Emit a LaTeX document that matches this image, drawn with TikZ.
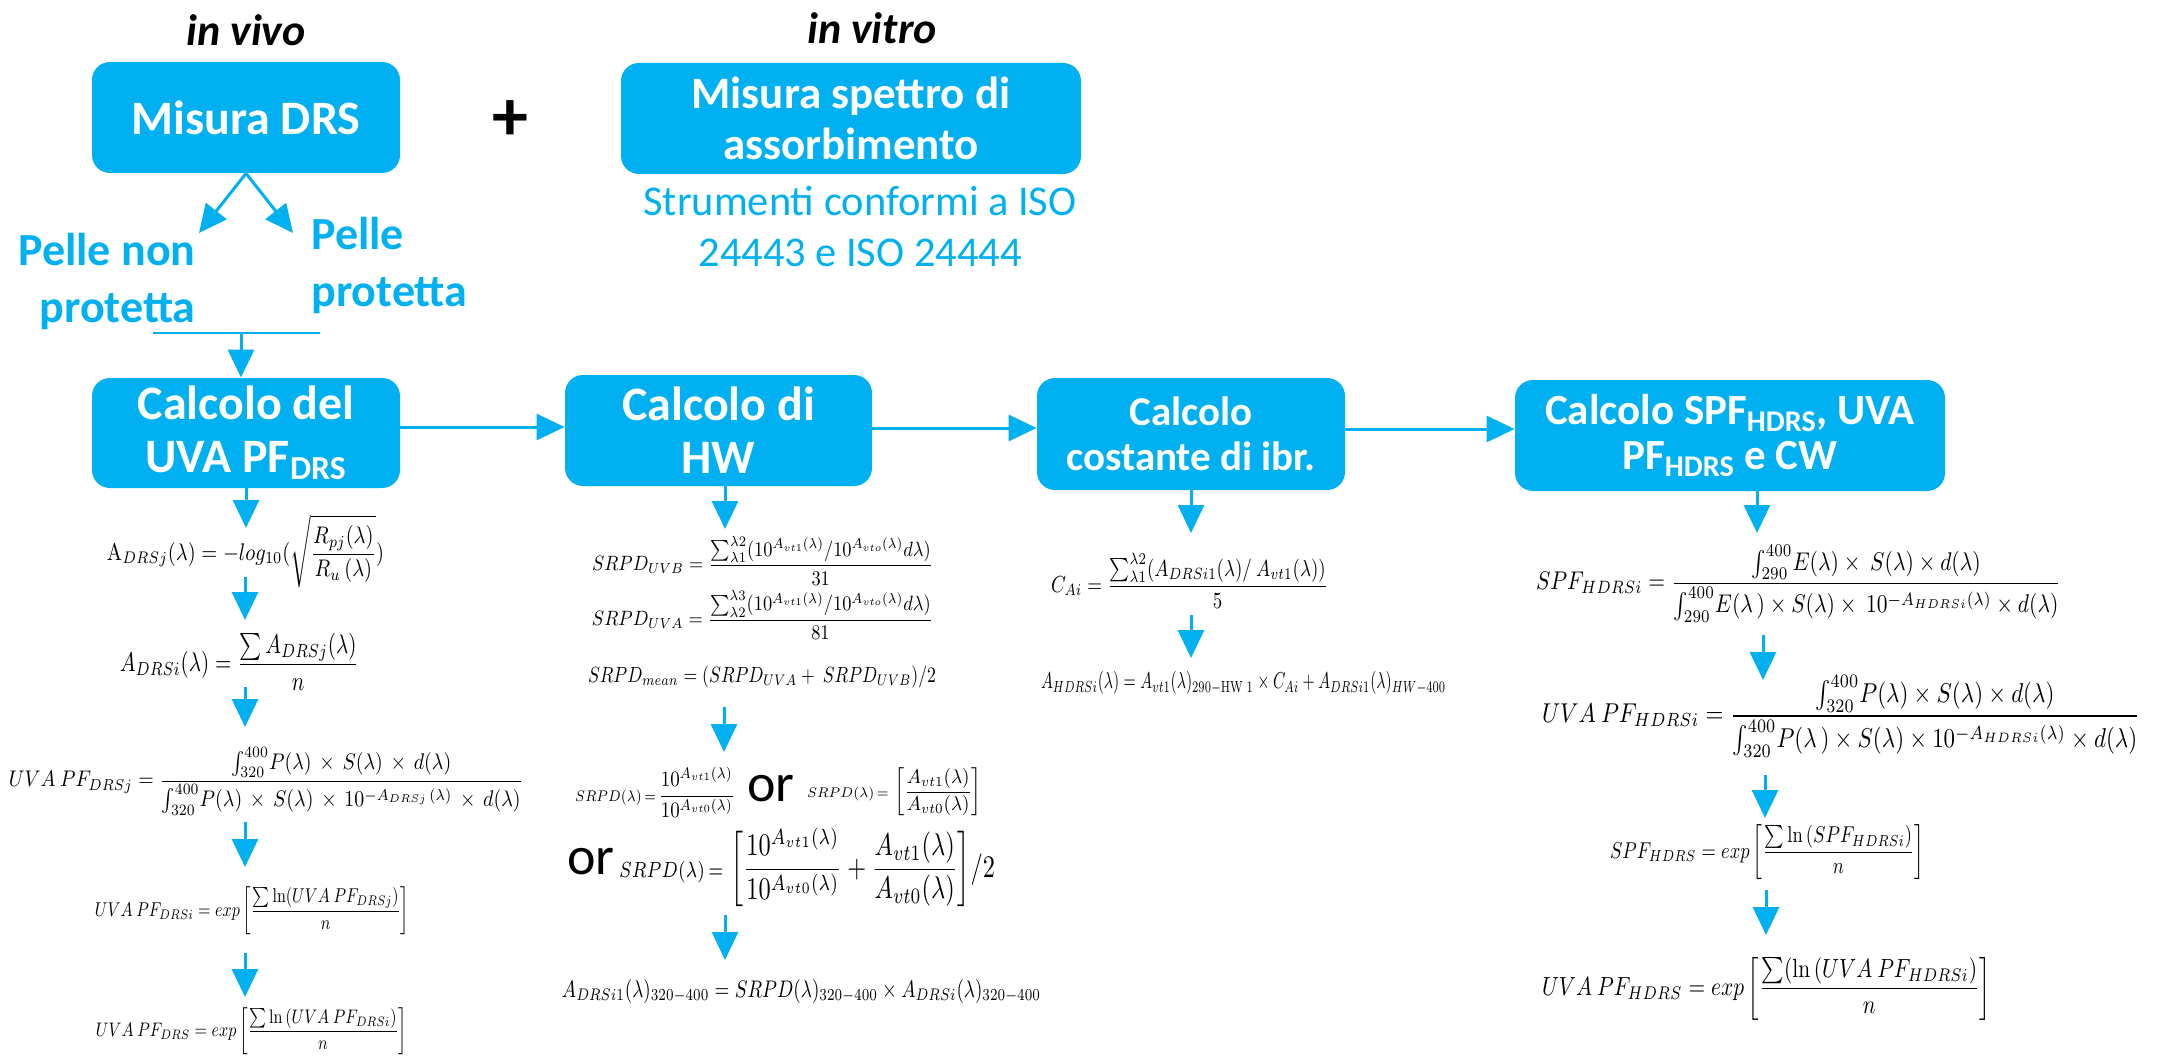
\documentclass[tikz,border=0pt]{standalone}
\usepackage{amsmath}
\usepackage{graphicx}
\usepackage[no-math]{fontspec}
\setmainfont{Carlito}
\usetikzlibrary{arrows.meta}
\definecolor{cb}{HTML}{00B0F0}
\newcommand{\fmla}[3]{\resizebox*{#1pt}{#2pt}{$\displaystyle #3$}}
\begin{document}
\begin{tikzpicture}[x=0.5pt,y=-0.5pt,
  box/.style={fill=cb, rounded corners=9pt, text=white, font=\bfseries, align=center, inner sep=0pt},
  arr/.style={draw=cb, line width=1.5pt, -{Triangle[length=14pt,width=13pt]}},
  fml/.style={inner sep=0pt},
  ortext/.style={inner sep=0pt, font=\fontsize{27}{30}\selectfont},
  blue/.style={text=cb, inner sep=0pt, font=\bfseries\fontsize{23}{28.5}\selectfont}]
\useasboundingbox (0,0) rectangle (2164,1059);

% headings
\node[font=\bfseries\itshape\fontsize{22}{26}\selectfont] (vivo) at (246,30) {in vivo};
\node[font=\bfseries\itshape\fontsize{22}{26}\selectfont] (vitro) at (872,28) {in vitro};
\node[font=\bfseries\fontsize{36}{40}\selectfont] (plus) at (510,121) {+};

% top boxes
\node[box, minimum width=154pt, minimum height=55.5pt, font=\bfseries\fontsize{24}{27}\selectfont] (drs) at (246,117.5) {Misura DRS};
\node[box, minimum width=230pt, minimum height=55.5pt, font=\bfseries\fontsize{22.5}{25.5}\selectfont] (spettro) at (851,118.5) {Misura spettro di\\assorbimento};
\node[text=cb, align=center, inner sep=0pt, font=\fontsize{21.2}{25.5}\selectfont] (strum) at (860,226) {Strumenti conformi a ISO\\24443 e ISO 24444};

% skin labels
\node[blue, align=right, anchor=east] (nonprot) at (196,281) {Pelle non\\protetta};
\node[blue, align=left, anchor=west] (prot) at (311,265) {Pelle\\protetta};
\coordinate (tl) at (199,233);
\coordinate (tr) at (293,233);
\draw[arr] (drs.south) -- (tl);
\draw[arr] (drs.south) -- (tr);
\coordinate (hl) at (153,333);
\coordinate (hr) at (320,333);
\coordinate (hm) at (241,333);
\draw[cb, line width=1pt] (hl) -- (hr);

% second row boxes
\node[box, minimum width=154pt, minimum height=55pt, font=\bfseries\fontsize{24}{26.5}\selectfont] (b1) at (246,433) {Calcolo del\\UVA PF\textsubscript{DRS}};
\node[box, minimum width=153.5pt, minimum height=55.5pt, font=\bfseries\fontsize{24}{26.5}\selectfont] (b2) at (718.5,430.5) {Calcolo di\\HW};
\node[box, minimum width=154pt, minimum height=56pt, font=\bfseries\fontsize{20.5}{22.5}\selectfont] (b3) at (1191,434) {Calcolo\\costante di ibr.};
\node[box, minimum width=215pt, minimum height=55.5pt, font=\bfseries\fontsize{21.5}{22.5}\selectfont] (b4) at (1730,435.5) {Calcolo SPF\textsubscript{HDRS}, UVA\\PF\textsubscript{HDRS} e CW};

\draw[arr] (hm) -- (hm |- b1.north);
\coordinate (y1) at (0,427);
\coordinate (y2) at (0,428);
\coordinate (y3) at (0,429);
\draw[arr] (b1.east |- y1) -- (b2.west |- y1);
\draw[arr] (b2.east |- y2) -- (b3.west |- y2);
\draw[arr] (b3.east |- y3) -- (b4.west |- y3);

% column 1 formulas
\node[fml] (f1) at (245.5,551.5) {\fmla{138.5}{36.5}{\mathrm{A}_{DRSj}(\lambda) = -log_{10}(\sqrt{\frac{R_{pj}(\lambda)}{R_{u}\,(\lambda)}})}};
\node[fml] (f2) at (239.5,661.5) {\fmla{119.5}{28.5}{A_{DRSi}(\lambda) = \frac{\sum A_{DRSj}(\lambda)}{n}}};
\node[fml] (f3) at (266,781) {\fmla{257}{34}{UVA\ PF_{DRSj} = \frac{{\textstyle\int_{320}^{400}} P(\lambda)\,\times\, S(\lambda)\,\times\, d(\lambda)}{{\textstyle\int_{320}^{400}} P(\lambda)\,\times\, S(\lambda)\,\times\, 10^{-A_{DRSj}\,(\lambda)}\,\times\, d(\lambda)}}};
\node[fml] (f4) at (252,911) {\fmla{157}{24}{UVA\ PF_{DRSi} = exp\left[\frac{\sum \ln(UVA\ PF_{DRSj})}{n}\right]}};
\node[fml] (f5) at (251.5,1031.5) {\fmla{155.5}{23.5}{UVA\ PF_{DRS} = exp\left[\frac{\sum \ln\,(UVA\ PF_{DRSi})}{n}\right]}};

\coordinate (a1e) at (246,528);
\coordinate (a2s) at (245,577); \coordinate (a2e) at (245,620);
\coordinate (a3s) at (245,687); \coordinate (a3e) at (245,727);
\coordinate (a4s) at (245,822); \coordinate (a4e) at (245,867);
\coordinate (a5s) at (245,953); \coordinate (a5e) at (245,997);
\draw[arr] (b1.south) -- (a1e);
\draw[arr] (a2s) -- (a2e);
\draw[arr] (a3s) -- (a3e);
\draw[arr] (a4s) -- (a4e);
\draw[arr] (a5s) -- (a5e);

% column 2 formulas
\node[fml] (f6) at (762.5,560.5) {\fmla{170.5}{24.5}{SRPD_{UVB} = \frac{{\textstyle\sum_{\lambda1}^{\lambda2}}(10^{A_{vt1}(\lambda)}/10^{A_{vto}(\lambda)}d\lambda)}{31}}};
\node[fml] (f7) at (762.5,615) {\fmla{170.5}{24.5}{SRPD_{UVA} = \frac{{\textstyle\sum_{\lambda2}^{\lambda3}}(10^{A_{vt1}(\lambda)}/10^{A_{vto}(\lambda)}d\lambda)}{81}}};
\node[fml] (f8) at (762,677) {\fmla{174}{11}{SRPD_{mean} = (SRPD_{UVA} +\ SRPD_{UVB})/2}};
\node[fml] (f9a) at (655,792) {\fmla{80}{25}{{\scriptstyle SRPD(\lambda)\,=\,}\frac{10^{A_{vt1}(\lambda)}}{10^{A_{vt0}(\lambda)}}}};
\node[ortext] (or1) at (771,789) {or};
\node[fml] (f9b) at (894.5,792) {\fmla{87.5}{24}{{\scriptstyle SRPD(\lambda)\,=\,}\left[\frac{A_{vt1}(\lambda)}{A_{vt0}(\lambda)}\right]}};
\node[ortext] (or2) at (591,862) {or};
\node[fml] (f10) at (807,867.5) {\fmla{188}{39.5}{{\scriptstyle SRPD(\lambda)\,=\,}\left[\frac{10^{A_{vt1}(\lambda)}}{10^{A_{vt0}(\lambda)}}+\frac{A_{vt1}(\lambda)}{A_{vt0}(\lambda)}\right]\!/2}};
\node[fml] (f11) at (801.5,991) {\fmla{239.5}{12}{A_{DRSi1}(\lambda)_{320-400} = SRPD(\lambda)_{320-400}\times A_{DRSi}(\lambda)_{320-400}}};

\coordinate (b2s) at (725,486); \coordinate (b2e) at (725,529);
\coordinate (c2s) at (724,707); \coordinate (c2e) at (724,752);
\coordinate (d2s) at (725,915); \coordinate (d2e) at (725,960);
\draw[arr] (b2s) -- (b2e);
\draw[arr] (c2s) -- (c2e);
\draw[arr] (d2s) -- (d2e);

% column 3 formulas
\node[fml] (f12) at (1189.5,580.5) {\fmla{138.5}{27.5}{C_{Ai} = \frac{{\textstyle\sum_{\lambda1}^{\lambda2}}(A_{DRSi1}(\lambda)/\ A_{vt1}(\lambda))}{5}}};
\node[fml] (f13) at (1243.5,683) {\fmla{202.5}{11.5}{A_{HDRSi}(\lambda) = A_{vt1}(\lambda)_{290-\mathrm{HW}\ 1}\times C_{Ai} + A_{DRSi1}(\lambda)_{HW-400}}};
\coordinate (b3e) at (1191,533);
\coordinate (c3s) at (1191,615); \coordinate (c3e) at (1191,658);
\draw[arr] (b3.south) -- (b3e);
\draw[arr] (c3s) -- (c3e);

% column 4 formulas
\node[fml] (f14) at (1798.5,583.5) {\fmla{262.5}{38.5}{SPF_{HDRSi} = \frac{{\textstyle\int_{290}^{400}} E(\lambda)\times\ S(\lambda)\times d(\lambda)}{{\textstyle\int_{290}^{400}} E(\lambda\,)\times S(\lambda)\times\ 10^{-A_{HDRSi}(\lambda)}\times d(\lambda)}}};
\node[fml] (f15) at (1841,716) {\fmla{299}{41}{UVA\ PF_{HDRSi} = \frac{{\textstyle\int_{320}^{400}} P(\lambda)\times S(\lambda)\times d(\lambda)}{{\textstyle\int_{320}^{400}} P(\lambda\,)\times S(\lambda)\times 10^{-A_{HDRSi}(\lambda)}\times d(\lambda)}}};
\node[fml] (f16) at (1767,852.5) {\fmla{157}{27.5}{SPF_{HDRS} = exp\left[\frac{\sum \ln\,(SPF_{HDRSi})}{n}\right]}};
\node[fml] (f17) at (1766.5,988.5) {\fmla{224.5}{31.5}{UVA\ PF_{HDRS} = exp\left[\frac{\sum(\ln\,(UVA\ PF_{HDRSi})}{n}\right]}};

\coordinate (b4s) at (1757,491); \coordinate (b4e) at (1757,533);
\coordinate (c4s) at (1763,635); \coordinate (c4e) at (1763,680);
\coordinate (d4s) at (1765,775); \coordinate (d4e) at (1765,818);
\coordinate (e4s) at (1766,890); \coordinate (e4e) at (1766,935);
\draw[arr] (b4s) -- (b4e);
\draw[arr] (c4s) -- (c4e);
\draw[arr] (d4s) -- (d4e);
\draw[arr] (e4s) -- (e4e);
\end{tikzpicture}
\end{document}
